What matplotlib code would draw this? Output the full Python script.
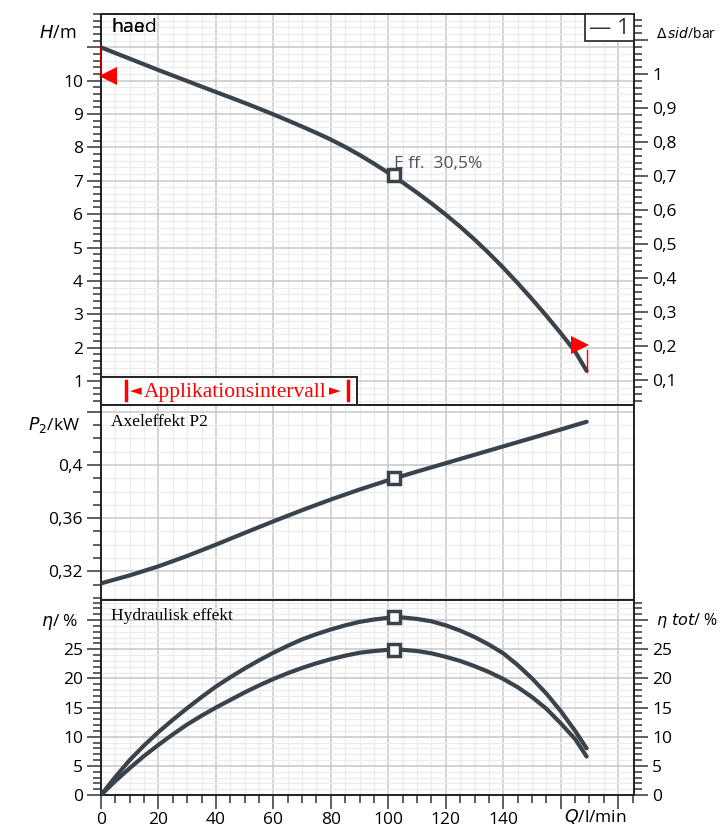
import matplotlib
matplotlib.use("Agg")
import matplotlib.pyplot as plt
from matplotlib.ticker import MultipleLocator, FixedLocator, FuncFormatter
from matplotlib.patches import Rectangle
from matplotlib.transforms import offset_copy

# data
q_h = [0, 5, 10, 15, 20, 25, 30, 35, 40, 45, 50, 55, 60, 65, 70, 75, 80, 85, 90, 95, 100,
       105, 110, 115, 120, 125, 130, 135, 140, 145, 150, 155, 160, 165, 169]
head = [11.0, 10.83, 10.66, 10.49, 10.32, 10.155, 9.99, 9.825, 9.66, 9.50, 9.335, 9.165, 8.99,
        8.81, 8.625, 8.435, 8.235, 8.015, 7.775, 7.515, 7.24,
        6.95, 6.645, 6.325, 5.985, 5.625, 5.24, 4.83, 4.395, 3.935, 3.455, 2.955, 2.435, 1.885, 1.305]

q_p = [0, 10, 20, 30, 40, 50, 60, 70, 80, 90, 100, 110, 120, 130, 140, 150, 160, 169]
p2 = [0.311, 0.317, 0.3238, 0.3316, 0.3401, 0.3489, 0.3576, 0.366, 0.374, 0.3815, 0.3885,
      0.395, 0.4013, 0.4076, 0.4139, 0.4202, 0.4266, 0.4324]

q_eta = [0, 5, 10, 15, 20, 25, 30, 35, 40, 45, 50, 55, 60, 65, 70, 75, 80, 85, 90, 95, 100,
         105, 110, 115, 120, 125, 130, 135, 140, 145, 150, 155, 160, 165, 169]
eta_hyd = [0, 3.1, 6.0, 8.5, 10.8, 12.9, 14.9, 16.8, 18.6, 20.2, 21.7, 23.1, 24.4, 25.6, 26.7,
           27.6, 28.4, 29.1, 29.7, 30.1, 30.4, 30.45, 30.2, 29.8, 29.1, 28.2, 27.1, 25.8, 24.3,
           22.3, 20.0, 17.4, 14.4, 11.0, 8.0]
eta_tot = [0, 2.4, 4.6, 6.7, 8.6, 10.4, 12.1, 13.6, 15.0, 16.3, 17.6, 18.8, 19.9, 20.9, 21.8,
           22.6, 23.3, 23.9, 24.4, 24.7, 24.9, 24.9, 24.7, 24.3, 23.7, 23.0, 22.1, 21.1, 19.9,
           18.5, 16.8, 14.8, 12.3, 9.6, 6.6]

q_duty = 101.8
h_duty = 7.17
p_duty = 0.390
eta_hyd_duty = 30.5
eta_tot_duty = 24.9

app_start = (0, 10.13)
app_end = (169, 2.09)

LINE = "#3a424b"
RED = "#ff0000"
MAJ = "#c8c8c8"
MIN = "#ececec"
SERIF = ["Liberation Serif", "DejaVu Serif"]

plt.rcParams["font.family"] = ["Open Sans", "DejaVu Sans"]
plt.rcParams["font.size"] = 12.5

fig = plt.figure(figsize=(7.21, 8.32), dpi=100)
L, W = 101 / 721, 533 / 721
ax1 = fig.add_axes([L, 427 / 832, W, 391 / 832])
ax2 = fig.add_axes([L, 232 / 832, W, 195 / 832])
ax3 = fig.add_axes([L, 37 / 832, W, 195 / 832])


def style(ax, ymaj, ymin):
    ax.set_xlim(0, 185.5)
    ax.xaxis.set_major_locator(MultipleLocator(20))
    ax.xaxis.set_minor_locator(MultipleLocator(5))
    ax.yaxis.set_major_locator(ymaj)
    ax.yaxis.set_minor_locator(MultipleLocator(ymin))
    ax.grid(which="major", color=MAJ, lw=1.1, zorder=0)
    ax.grid(which="minor", color=MIN, lw=0.9, zorder=0)
    ax.set_axisbelow(True)
    for s in ax.spines.values():
        s.set_linewidth(1.4)
        s.set_color("#222222")
    ax.tick_params(axis="y", which="major", length=10, width=1.1, color="#333333", pad=3)
    ax.tick_params(axis="y", which="minor", length=6, width=1.1, color="#333333")
    ax.tick_params(axis="x", which="both", bottom=False, labelbottom=False)


def unlabel_top(top):
    return FuncFormatter(lambda v, p: "" if abs(v - top) < 1e-6 else ("%g" % round(v, 3)).replace(".", ","))


# ---- top: head ----
ax1.set_ylim(0.28, 12.0)
style(ax1, FixedLocator(range(1, 12)), 0.2)
ax1.yaxis.set_major_formatter(unlabel_top(11))
ax1.plot(q_h, head, color=LINE, lw=3, solid_capstyle="round", zorder=3)
ax1.plot([q_duty], [h_duty], "s", ms=8, mfc="white", mec=LINE, mew=2.5, zorder=4)
ax1.text(q_duty, h_duty + 0.33, "E ff.  30,5%", color="#4b5561", fontsize=12.5,
         ha="left", va="center", zorder=5)

sec1 = ax1.secondary_yaxis("right", functions=(lambda h: h / 10.2, lambda b: b * 10.2))
sec1.yaxis.set_major_locator(FixedLocator([i / 10 for i in range(1, 12)]))
sec1.yaxis.set_minor_locator(MultipleLocator(0.02))
sec1.yaxis.set_major_formatter(unlabel_top(1.1))
sec1.tick_params(which="major", length=10, width=1.1, color="#333333", pad=3)
sec1.tick_params(which="minor", length=6, width=1.1, color="#333333")
sec1.spines["right"].set_visible(False)

# application interval marks
tl = offset_copy(ax1.transData, fig=fig, x=7, y=0, units="dots")
tr = offset_copy(ax1.transData, fig=fig, x=-7, y=0, units="dots")
ax1.plot([app_start[0]], [app_start[1]], marker="<", ms=13, color=RED, mew=0,
         transform=tl, clip_on=False, zorder=6)
ax1.plot([app_end[0]], [app_end[1]], marker=">", ms=13, color=RED, mew=0,
         transform=tr, zorder=6)
ax1.plot([app_start[0], app_start[0]], [head[0], app_start[1]], color="#b00000", lw=1.5,
         clip_on=False, zorder=6)
ax1.plot([app_end[0], app_end[0]], [app_end[1] - 0.15, head[-1] - 0.05], color=RED, lw=1, zorder=6)

box_w = 256 / 533
box_h = 28 / 391
ax1.add_patch(Rectangle((0, 0), box_w, box_h, transform=ax1.transAxes, fc="white",
                        ec="#222222", lw=1.4, zorder=7, clip_on=False))
ax1.text(134 / 533, box_h / 2 - 0.003, "Applikationsintervall", transform=ax1.transAxes,
         color=RED, fontsize=15.5, family=SERIF, ha="center", va="center", zorder=8)
ax1.text(35 / 533, box_h / 2, "◄", transform=ax1.transAxes, color=RED, fontsize=11,
         family="DejaVu Sans", ha="center", va="center", zorder=8)
ax1.text(234 / 533, box_h / 2, "►", transform=ax1.transAxes, color=RED, fontsize=11,
         family="DejaVu Sans", ha="center", va="center", zorder=8)
for xb in (25 / 533, 247 / 533):
    ax1.plot([xb, xb], [0.012, 0.062], transform=ax1.transAxes, color=RED, lw=2.5, zorder=8)

ax1.add_patch(Rectangle((484 / 533, 1 - 27 / 391), 49 / 533, 27 / 391, transform=ax1.transAxes,
                        fc="white", ec="#222222", lw=1.2, zorder=7))
ax1.text(508 / 533, 1 - 14 / 391, "— 1", transform=ax1.transAxes, ha="center", va="center",
         fontsize=16, color="#333333", zorder=8)

ax1.text(10 / 533, 1 - 13 / 391, "haad", transform=ax1.transAxes, ha="left", va="center",
         fontsize=14, color="black", zorder=5)
ax1.text(10 / 533, 1 - 13 / 391, "hae", transform=ax1.transAxes, ha="left", va="center",
         fontsize=14, color="black", zorder=5)

fig.text(76 / 721, 1 - 33 / 832, "$\\it{H}$/m", ha="right", va="center", fontsize=13)
fig.text(656 / 721, 1 - 35 / 832, "$\\it{\\Delta\\,sid}$/bar", ha="left", va="center", fontsize=10)

# ---- middle: P2 ----
ax2.set_ylim(0.2985, 0.445)
style(ax2, FixedLocator([0.32, 0.36, 0.40, 0.44]), 0.01)
ax2.yaxis.set_major_formatter(unlabel_top(0.44))
ax2.plot(q_p, p2, color=LINE, lw=3, solid_capstyle="round", zorder=3)
ax2.plot([q_duty], [p_duty], "s", ms=8, mfc="white", mec=LINE, mew=2.5, zorder=4)
ax2.text(10 / 533, 1 - 17 / 195, "Axeleffekt P2", transform=ax2.transAxes, family=SERIF,
         fontsize=12.5, ha="left", va="center")
fig.text(80 / 721, 1 - 425 / 832, "$\\it{P_2}$/kW", ha="right", va="center", fontsize=12.5)

# ---- bottom: efficiency ----
ax3.set_ylim(0, 33.45)
style(ax3, MultipleLocator(5), 1)
ax3.yaxis.set_major_formatter(unlabel_top(30))
ax3.plot(q_eta, eta_hyd, color=LINE, lw=3, solid_capstyle="round", zorder=3)
ax3.plot(q_eta, eta_tot, color=LINE, lw=3, solid_capstyle="round", zorder=3)
ax3.plot([q_duty, q_duty], [eta_hyd_duty, eta_tot_duty], "s", ms=8, mfc="white", mec=LINE,
         mew=2.5, zorder=4)
ax3.text(10 / 533, 1 - 16 / 195, "Hydraulisk effekt", transform=ax3.transAxes, family=SERIF,
         fontsize=12.5, ha="left", va="center")
ax3.tick_params(axis="x", which="both", bottom=True, labelbottom=True, direction="out",
                color="#333333", width=1.1)
ax3.tick_params(axis="x", which="major", length=10, pad=2)
ax3.tick_params(axis="x", which="minor", length=6)
ax3.xaxis.set_major_formatter(FuncFormatter(lambda v, p: "" if v >= 160 else "%d" % v))
ax3.text(172, -2.0, "$\\it{Q}$/l/min", ha="center", va="top", fontsize=12.5)

sec3 = ax3.secondary_yaxis("right")
sec3.yaxis.set_major_locator(MultipleLocator(5))
sec3.yaxis.set_minor_locator(MultipleLocator(1))
sec3.yaxis.set_major_formatter(unlabel_top(30))
sec3.tick_params(which="major", length=10, width=1.1, color="#333333", pad=3)
sec3.tick_params(which="minor", length=6, width=1.1, color="#333333")
sec3.spines["right"].set_visible(False)

fig.text(78 / 721, 1 - 622 / 832, "$\\it{\\eta}$/ %", ha="right", va="center", fontsize=12.5)
fig.text(656 / 721, 1 - 620 / 832, "$\\it{\\eta\\ tot}$/ %", ha="left", va="center", fontsize=11.5)

fig.savefig("out.png", dpi=100, facecolor="white")
